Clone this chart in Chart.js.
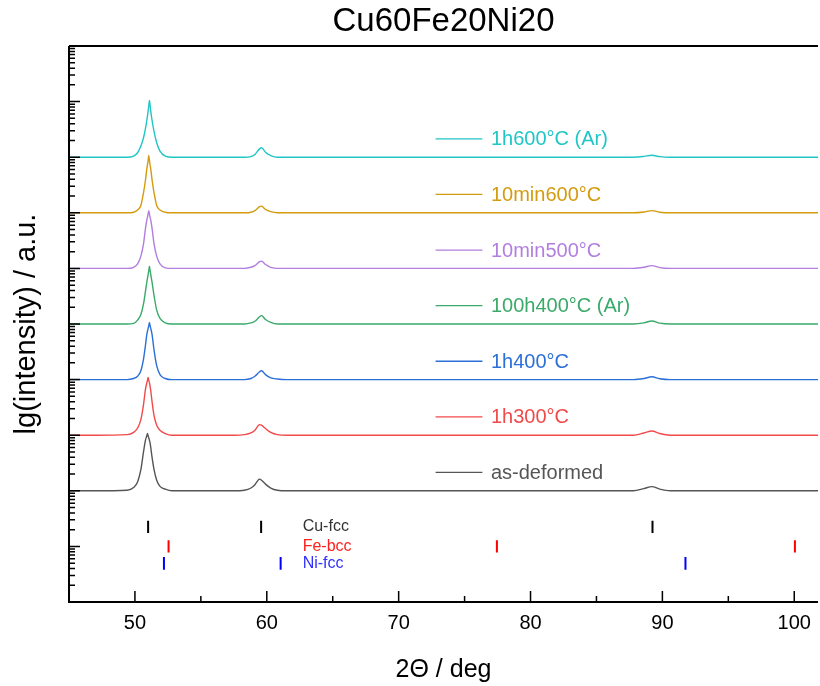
<!DOCTYPE html>
<html>
<head>
<meta charset="utf-8">
<title>Cu60Fe20Ni20</title>
<script src="https://cdn.jsdelivr.net/npm/chart.js@4.4.1/dist/chart.umd.min.js"></script>
<style>
  html, body { margin: 0; padding: 0; background: #fff; overflow: hidden; }
  #xrd { display: block; }
</style>
</head>
<body>
<canvas id="xrd" width="820" height="686"></canvas>
<script>
// --- Data (values are lg(intensity)) ---
const twoTheta = [45, 47, 49.4, 49.9, 50.2, 50.45, 50.65, 50.8, 50.9, 50.95, 51.0, 51.05, 51.1, 51.15, 51.2, 51.3, 51.45, 51.65, 51.9, 52.3, 52.8,
  54, 56, 57.5, 58.3, 58.8, 59.1, 59.45, 59.6, 59.9, 60.3, 60.8, 61.5,
  64, 67, 70, 73, 76, 79, 82, 85, 87.8, 88.6, 89.2, 89.8, 90.6, 93, 96, 99, 101.8];

const asDeformed = [2.00, 2.00, 2.01, 2.06, 2.16, 2.38, 2.70, 2.91, 2.99, 3.03, 2.99, 2.95, 2.91, 2.86, 2.78, 2.60, 2.38, 2.19, 2.08, 2.03, 2.00,
  2.00, 2.00, 2.00, 2.01, 2.05, 2.11, 2.21, 2.19, 2.12, 2.05, 2.01, 2.00,
  2.00, 2.00, 2.00, 2.00, 2.00, 2.00, 2.00, 2.00, 2.00, 2.04, 2.075, 2.03, 2.00, 2.00, 2.00, 2.00, 2.00];
const h1at300 = [3.00, 3.00, 3.01, 3.05, 3.13, 3.28, 3.55, 3.83, 3.94, 3.99, 4.04, 3.99, 3.94, 3.88, 3.80, 3.60, 3.35, 3.18, 3.09, 3.03, 3.00,
  3.00, 3.00, 3.00, 3.01, 3.04, 3.09, 3.19, 3.18, 3.12, 3.05, 3.01, 3.00,
  3.00, 3.00, 3.00, 3.00, 3.00, 3.00, 3.00, 3.00, 3.00, 3.04, 3.075, 3.03, 3.00, 3.00, 3.00, 3.00, 3.00];
const h1at400 = [4.00, 4.00, 4.00, 4.02, 4.06, 4.16, 4.37, 4.62, 4.81, 4.87, 4.92, 4.97, 5.03, 4.97, 4.92, 4.81, 4.53, 4.25, 4.09, 4.02, 4.00,
  4.00, 4.00, 4.00, 4.00, 4.02, 4.06, 4.14, 4.16, 4.09, 4.03, 4.01, 4.00,
  4.00, 4.00, 4.00, 4.00, 4.00, 4.00, 4.00, 4.00, 4.00, 4.02, 4.05, 4.015, 4.00, 4.00, 4.00, 4.00, 4.00];
const h100at400Ar = [5.00, 5.00, 5.00, 5.01, 5.07, 5.17, 5.36, 5.59, 5.75, 5.82, 5.89, 5.96, 6.04, 5.96, 5.89, 5.75, 5.51, 5.25, 5.10, 5.02, 5.00,
  5.00, 5.00, 5.00, 5.00, 5.02, 5.05, 5.13, 5.15, 5.08, 5.03, 5.00, 5.00,
  5.00, 5.00, 5.00, 5.00, 5.00, 5.00, 5.00, 5.00, 5.00, 5.02, 5.055, 5.015, 5.00, 5.00, 5.00, 5.00, 5.00];
const min10at500 = [6.00, 6.00, 6.00, 6.02, 6.08, 6.22, 6.44, 6.72, 6.87, 6.92, 6.98, 7.04, 6.98, 6.92, 6.87, 6.72, 6.44, 6.22, 6.08, 6.01, 6.00,
  6.00, 6.00, 6.00, 6.00, 6.02, 6.05, 6.12, 6.13, 6.07, 6.02, 6.00, 6.00,
  6.00, 6.00, 6.00, 6.00, 6.00, 6.00, 6.00, 6.00, 6.00, 6.02, 6.05, 6.015, 6.00, 6.00, 6.00, 6.00, 6.00];
const min10at600 = [7.00, 7.00, 7.00, 7.01, 7.05, 7.13, 7.36, 7.59, 7.79, 7.86, 7.94, 8.03, 7.94, 7.86, 7.79, 7.59, 7.36, 7.13, 7.05, 7.01, 7.00,
  7.00, 7.00, 7.00, 7.00, 7.01, 7.04, 7.11, 7.12, 7.06, 7.02, 7.00, 7.00,
  7.00, 7.00, 7.00, 7.00, 7.00, 7.00, 7.00, 7.00, 7.00, 7.015, 7.04, 7.01, 7.00, 7.00, 7.00, 7.00, 7.00];
const h1at600Ar = [8.00, 8.00, 8.00, 8.02, 8.08, 8.20, 8.35, 8.52, 8.66, 8.74, 8.83, 8.93, 9.02, 8.93, 8.83, 8.66, 8.46, 8.26, 8.11, 8.02, 8.00,
  8.00, 8.00, 8.00, 8.00, 8.01, 8.05, 8.15, 8.17, 8.09, 8.03, 8.00, 8.00,
  8.00, 8.00, 8.00, 8.00, 8.00, 8.00, 8.00, 8.00, 8.00, 8.015, 8.036, 8.01, 8.00, 8.00, 8.00, 8.00, 8.00];

const seriesLabels = ['as-deformed', '1h300°C', '1h400°C', '100h400°C (Ar)', '10min500°C', '10min600°C', '1h600°C (Ar)'];
const seriesValues = [asDeformed, h1at300, h1at400, h100at400Ar, min10at500, min10at600, h1at600Ar];
const seriesColors = ['#555555', '#f24a4a', '#2b6fd8', '#3aaa6a', '#b27ee0', '#d49b0e', '#20c6c6'];

// reference line positions (2Θ) and their vertical extent (lg units)
const phaseLabels = ['Cu-fcc', 'Fe-bcc', 'Ni-fcc'];
const cuFcc = [51.0, 59.57, 89.25];
const feBcc = [52.55, 77.45, 100.05];
const niFcc = [52.2, 61.05, 91.75];
const phaseRanges = [[1.24, 1.46], [0.89, 1.11], [0.58, 0.81]];
const phaseColors = ['#000000', '#ff0000', '#0000ff'];
const phaseTextColors = ['#333333', '#ff2020', '#3030ff'];

// axis ticks
const xTicks = [45, 50, 55, 60, 65, 70, 75, 80, 85, 90, 95, 100];
const yDecades = [0, 1, 2, 3, 4, 5, 6, 7, 8, 9, 10];
const yMinorSteps = [2, 3, 4, 5, 6, 7, 8, 9];

const FONT = '"Liberation Sans", Arial, sans-serif';

// --- Plugins ---
const frameAndTicks = {
    id: 'frameAndTicks',
    afterDatasetsDraw(chart) {
        const { ctx, chartArea: a, scales: { x, y } } = chart;
        ctx.save();
        ctx.strokeStyle = '#000';
        ctx.lineWidth = 1.5;
        ctx.beginPath();
        y.ticks.forEach(t => {
            const py = y.getPixelForValue(t.value);
            ctx.moveTo(a.left, py);
            ctx.lineTo(a.left + (t.major ? 11 : 6), py);
        });
        x.ticks.forEach(t => {
            const px = x.getPixelForValue(t.value);
            ctx.moveTo(px, a.bottom);
            ctx.lineTo(px, a.bottom - (t.value % 10 === 0 ? 11 : 6));
        });
        ctx.stroke();

        // frame: left, bottom, top
        ctx.lineWidth = 2;
        ctx.beginPath();
        ctx.moveTo(a.left, a.top);
        ctx.lineTo(a.left, a.bottom);
        ctx.lineTo(a.right, a.bottom);
        ctx.moveTo(a.left, a.top);
        ctx.lineTo(a.right, a.top);
        ctx.stroke();
        ctx.restore();
    }
};

const inlineLegend = {
    id: 'inlineLegend',
    afterDatasetsDraw(chart) {
        const { ctx, scales: { x, y } } = chart;
        ctx.save();
        ctx.font = '20px ' + FONT;
        ctx.textBaseline = 'middle';
        ctx.textAlign = 'left';
        seriesLabels.forEach((label, i) => {
            const py = y.getPixelForValue(seriesValues[i][0] + 0.33);
            ctx.strokeStyle = seriesColors[i];
            ctx.lineWidth = 1.3;
            ctx.beginPath();
            ctx.moveTo(x.getPixelForValue(72.8), py);
            ctx.lineTo(x.getPixelForValue(76.35), py);
            ctx.stroke();
            ctx.fillStyle = seriesColors[i];
            ctx.fillText(label, x.getPixelForValue(77.0), py + 1);
        });

        ctx.font = '16px ' + FONT;
        phaseLabels.forEach((label, i) => {
            const mid = (phaseRanges[i][0] + phaseRanges[i][1]) / 2;
            ctx.fillStyle = phaseTextColors[i];
            ctx.fillText(label, x.getPixelForValue(62.72), y.getPixelForValue(mid));
        });
        ctx.restore();
    }
};

// --- Datasets ---
const curveSets = seriesValues.map((vals, i) => ({
    label: seriesLabels[i],
    data: twoTheta.map((t, j) => ({ x: t, y: vals[j] })),
    borderColor: seriesColors[i],
    borderWidth: 1.4,
    pointRadius: 0,
    cubicInterpolationMode: 'monotone',
    fill: false
}));

const phaseSets = [cuFcc, feBcc, niFcc].map((positions, i) => ({
    label: phaseLabels[i],
    data: positions.flatMap(p => [
        { x: p, y: phaseRanges[i][0] },
        { x: p, y: phaseRanges[i][1] },
        { x: p, y: null }
    ]),
    borderColor: phaseColors[i],
    borderWidth: 2,
    pointRadius: 0,
    spanGaps: false,
    fill: false
}));

new Chart(document.getElementById('xrd'), {
    type: 'line',
    data: { datasets: [...curveSets, ...phaseSets] },
    options: {
        responsive: false,
        animation: false,
        events: [],
        layout: { padding: { left: 0, right: 0, top: 0, bottom: 0 } },
        plugins: {
            legend: { display: false },
            tooltip: { enabled: false },
            title: {
                display: true,
                text: 'Cu60Fe20Ni20',
                color: '#000',
                fullSize: false,
                font: { family: FONT, size: 33, weight: 'normal' },
                padding: { top: 2, bottom: 4.4 }
            }
        },
        scales: {
            x: {
                type: 'linear',
                min: 45,
                max: 101.8,
                afterBuildTicks: scale => { scale.ticks = xTicks.map(v => ({ value: v })); },
                afterFit: scale => { scale.height = 84; },
                grid: { display: false, drawTicks: false },
                border: { display: false },
                ticks: {
                    color: '#000',
                    padding: 9,
                    maxRotation: 0,
                    autoSkip: false,
                    font: { family: FONT, size: 20 },
                    callback: v => (v % 10 === 0 ? String(v) : '')
                },
                title: {
                    display: true,
                    text: '2Θ / deg',
                    color: '#000',
                    font: { family: FONT, size: 25 },
                    padding: { top: 0, bottom: 1 }
                }
            },
            y: {
                type: 'linear',
                min: 0,
                max: 10,
                afterBuildTicks: scale => {
                    const ticks = [];
                    yDecades.forEach(d => {
                        ticks.push({ value: d, major: true });
                        if (d < 10) yMinorSteps.forEach(m => ticks.push({ value: d + Math.log10(m), major: false }));
                    });
                    scale.ticks = ticks;
                },
                afterFit: scale => { scale.width = 69; },
                grid: { display: false, drawTicks: false },
                border: { display: false },
                ticks: { display: false },
                title: {
                    display: true,
                    text: 'lg(intensity) / a.u.',
                    color: '#000',
                    font: { family: FONT, size: 29 },
                    padding: { top: 10, bottom: 0 }
                }
            }
        }
    },
    plugins: [inlineLegend, frameAndTicks]
});
</script>
</body>
</html>
